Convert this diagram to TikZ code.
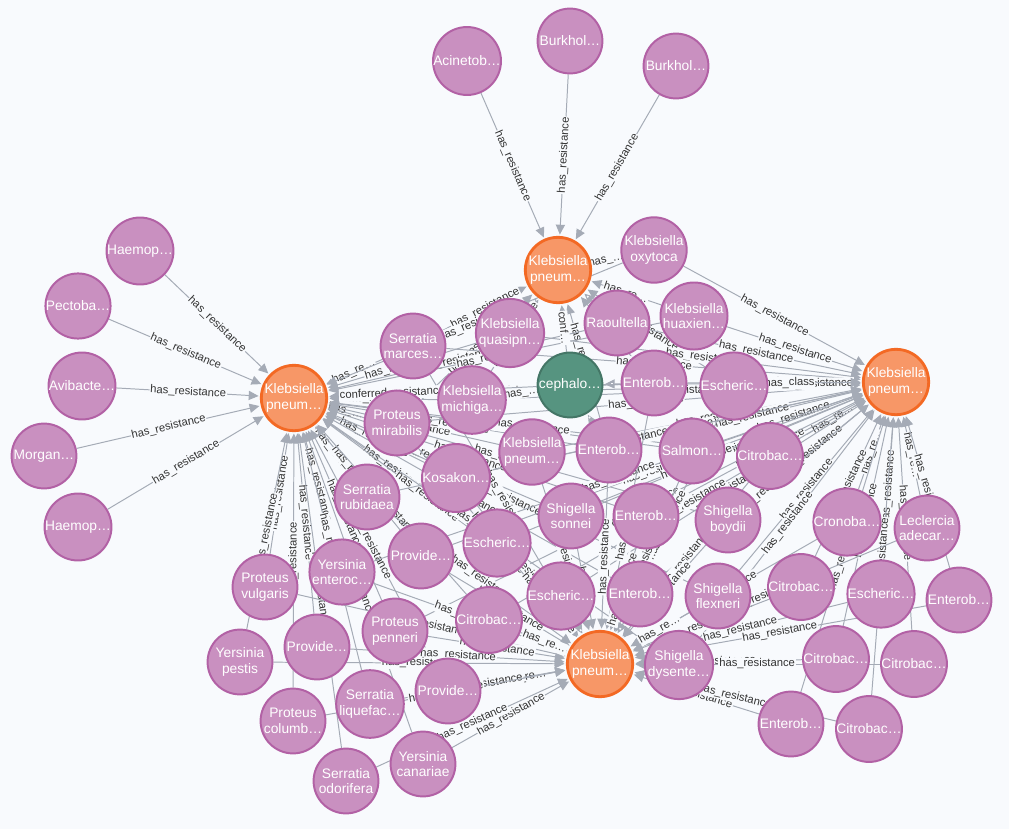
\documentclass[tikz,border=0pt]{standalone}
\usepackage{fontspec}
\setmainfont{Liberation Sans}
\usetikzlibrary{arrows.meta,calc,backgrounds}

\definecolor{bgc}{HTML}{F8FAFD}
\definecolor{spfill}{HTML}{C990C0}
\definecolor{spline}{HTML}{B261A5}
\definecolor{kpfill}{HTML}{F79767}
\definecolor{kpline}{HTML}{F36924}
\definecolor{drfill}{HTML}{569480}
\definecolor{drline}{HTML}{447666}
\definecolor{edgec}{HTML}{A5ABB6}

% label text shortened the way the viewer does it on short edges
\newcommand{\reslbl}[1]{%
  \pgfmathtruncatemacro{\lblkind}{(#1>110)+(#1>82)+(#1>68)}%
  \ifcase\lblkind\or has\_…\or has\_re…\or has\_resistance\fi}

\begin{document}
\begin{tikzpicture}[x=0.025cm,y=-0.025cm,
    sp/.style={circle,draw=spline,fill=spfill,line width=1.4pt,minimum size=1.62cm,
      inner sep=0pt,text=white,align=center,font=\fontsize{9.8}{11.2}\selectfont},
    kp/.style={sp,draw=kpline,fill=kpfill,line width=2pt},
    dr/.style={sp,draw=drline,fill=drfill},
    rel/.style={draw=edgec,line width=0.7pt,-{Triangle[length=7pt,width=6.5pt]},shorten >=1pt},
    lbl/.style={midway,sloped,fill=bgc,inner sep=0.6pt,text=black!80,
      font=\fontsize{8}{8.5}\selectfont}]
    \useasboundingbox (0,0) rectangle (1009,829);

    % hubs
    \node[kp] (kA) at (558,270) {Klebsiella\\pneum…};
    \node[kp] (kL) at (294,398) {Klebsiella\\pneum…};
    \node[kp] (kR) at (896,382) {Klebsiella\\pneum…};
    \node[kp] (kB) at (600,664) {Klebsiella\\pneum…};
    \node[dr] (ceph) at (570,385) {cephalo…};

    % outer species
    \node[sp] (acin) at (467,61) {Acinetob…};
    \node[sp] (burk1) at (570,41) {Burkhol…};
    \node[sp] (burk2) at (676,66) {Burkhol…};
    \node[sp] (haem1) at (140,251) {Haemop…};
    \node[sp] (pect) at (78,306) {Pectoba…};
    \node[sp] (avib) at (82,386) {Avibacte…};
    \node[sp] (morg) at (44,456) {Morgan…};
    \node[sp] (haem2) at (78,527) {Haemop…};

    % inner species
    \node[sp] (oxyt) at (654,250) {Klebsiella\\oxytoca};
    \node[sp] (quas) at (510,333) {Klebsiella\\quasipn…};
    \node[sp] (raou) at (617,323) {Raoultella};
    \node[sp] (huax) at (694,316) {Klebsiella\\huaxien…};
    \node[sp] (marc) at (413,346) {Serratia\\marces…};
    \node[sp] (mich) at (472,400) {Klebsiella\\michiga…};
    \node[sp] (mira) at (397,423) {Proteus\\mirabilis};
    \node[sp] (ent1) at (654,383) {Enterob…};
    \node[sp] (esc1) at (734,386) {Escheric…};
    \node[sp] (kpn) at (532,452) {Klebsiella\\pneum…};
    \node[sp] (ent2) at (609,450) {Enterob…};
    \node[sp] (salm) at (692,451) {Salmon…};
    \node[sp] (cit1) at (770,456) {Citrobac…};
    \node[sp] (kosa) at (456,478) {Kosakon…};
    \node[sp] (rubi) at (367,497) {Serratia\\rubidaea};
    \node[sp] (sonn) at (571,516) {Shigella\\sonnei};
    \node[sp] (ent3) at (646,516) {Enterob…};
    \node[sp] (boyd) at (728,520) {Shigella\\boydii};
    \node[sp] (cron) at (847,522) {Cronoba…};
    \node[sp] (lecl) at (927,528) {Leclercia\\adecar…};
    \node[sp] (prov1) at (421,556) {Provide…};
    \node[sp] (esc2) at (497,543) {Escheric…};
    \node[sp] (yent) at (342,572) {Yersinia\\enteroc…};
    \node[sp] (pvul) at (265,587) {Proteus\\vulgaris};
    \node[sp] (esc3) at (561,596) {Escheric…};
    \node[sp] (ent4) at (640,594) {Enterob…};
    \node[sp] (flex) at (718,596) {Shigella\\flexneri};
    \node[sp] (cit2) at (801,587) {Citrobac…};
    \node[sp] (esc4) at (881,594) {Escheric…};
    \node[sp] (ent5) at (959,600) {Enterob…};
    \node[sp] (penn) at (395,631) {Proteus\\penneri};
    \node[sp] (cit3) at (489,620) {Citrobac…};
    \node[sp] (prov2) at (317,647) {Provide…};
    \node[sp] (ypes) at (240,662) {Yersinia\\pestis};
    \node[sp] (dys) at (679,665) {Shigella\\dysente…};
    \node[sp] (cit4) at (836,659) {Citrobac…};
    \node[sp] (cit5) at (914,664) {Citrobac…};
    \node[sp] (prov3) at (448,691) {Provide…};
    \node[sp] (liqu) at (370,704) {Serratia\\liquefac…};
    \node[sp] (colu) at (293,721) {Proteus\\columb…};
    \node[sp] (ycan) at (423,764) {Yersinia\\canariae};
    \node[sp] (odor) at (346,781) {Serratia\\odorifera};
    \node[sp] (ent6) at (791,724) {Enterob…};
    \node[sp] (cit6) at (869,729) {Citrobac…};

    \begin{scope}[on background layer]
    \fill[bgc] (0,0) rectangle (1009,829);
    \foreach \src in {acin,burk1,burk2,oxyt,huax,raou,quas,marc,mich,mira,ent1,esc1,ent2}
        \draw[rel] let \p1=($(kA)-(\src)$), \n1={veclen(\x1,\y1)} in
            (\src) -- (kA) node[lbl] {\reslbl{\n1}};
    \foreach \src in {haem1,pect,avib,morg,haem2,marc,quas,mich,mira,raou,huax,oxyt,ent1,esc1,
        kpn,ent2,salm,kosa,rubi,sonn,ent3,prov1,esc2,yent,pvul,esc3,ent4,penn,cit3,prov2,
        ypes,prov3,liqu,colu,ycan,odor,boyd,cit1,dys,flex}
        \draw[rel] let \p1=($(kL)-(\src)$), \n1={veclen(\x1,\y1)} in
            (\src) -- (kL) node[lbl] {\reslbl{\n1}};
    \foreach \src in {oxyt,huax,raou,quas,marc,mich,mira,ent1,esc1,kpn,ent2,salm,cit1,kosa,
        rubi,sonn,ent3,boyd,cron,lecl,prov1,esc2,yent,esc3,ent4,flex,cit2,esc4,ent5,penn,
        cit3,dys,cit4,cit5,ent6,cit6}
        \draw[rel] let \p1=($(kR)-(\src)$), \n1={veclen(\x1,\y1)} in
            (\src) -- (kR) node[lbl] {\reslbl{\n1}};
    \foreach \src in {mira,marc,ent1,esc1,kpn,ent2,salm,cit1,kosa,rubi,sonn,ent3,boyd,cron,
        lecl,prov1,esc2,yent,pvul,esc3,ent4,flex,cit2,esc4,ent5,penn,cit3,prov2,ypes,dys,
        cit4,cit5,prov3,liqu,colu,ycan,odor,ent6,cit6}
        \draw[rel] let \p1=($(kB)-(\src)$), \n1={veclen(\x1,\y1)} in
            (\src) -- (kB) node[lbl] {\reslbl{\n1}};
    \foreach \src in {mich,ent1,ent2}
        \draw[rel] let \p1=($(ceph)-(\src)$), \n1={veclen(\x1,\y1)} in
            (\src) -- (ceph) node[lbl] {\reslbl{\n1}};
    \draw[rel] (ceph) -- (kA) node[lbl] {conf…};
    \draw[rel] (ceph) -- (kL) node[lbl,pos=0.65] {conferred\_resistance\_…};
    \draw[rel] (ceph) -- (kR) node[lbl,pos=0.72] {has\_class};
    \end{scope}
\end{tikzpicture}
\end{document}
